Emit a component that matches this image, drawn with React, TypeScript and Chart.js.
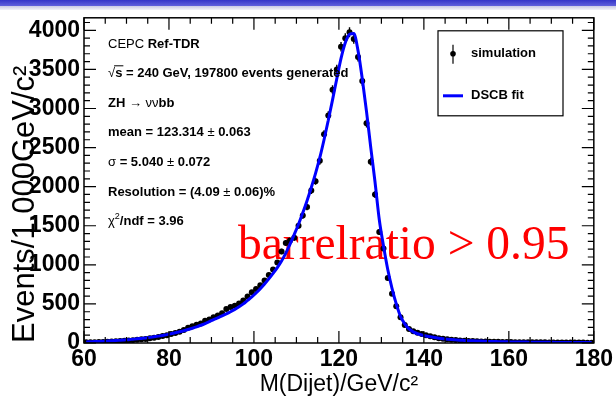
import React, { useEffect, useRef } from 'react';
import { Chart, registerables } from 'chart.js';

Chart.register(...registerables);

// ---- data (1 GeV bins from 60 to 180) ----
const binStart = 60;
const binWidth = 1;

const simulation = [
  8, 10, 11, 13, 14, 16, 18, 21, 25, 29,
  32, 36, 41, 47, 52, 60, 68, 78, 88, 100,
  114, 127, 145, 165, 195, 215, 235, 250, 285, 300,
  330, 352, 380, 435, 460, 475, 505, 545, 595, 650,
  690, 740, 800, 870, 940, 1030, 1170, 1280, 1310, 1345,
  1500, 1630, 1740, 1950, 2070, 2330, 2670, 2910, 3240, 3500,
  3790, 3900, 3975, 3890, 3660, 3350, 2810, 2320, 1900, 1420,
  1210, 830, 630, 470, 330, 230, 180, 150, 130, 115,
  100, 85, 72, 62, 54, 47, 41, 37, 33, 30,
  27, 25, 22, 20, 19, 17, 16, 15, 14, 13,
  12, 11, 11, 10, 10, 9, 9, 8, 8, 7,
  7, 7, 6, 6, 6, 5, 5, 5, 4, 4,
];

const dscbFit = [
  14, 16, 18, 20, 22, 25, 28, 31, 35, 39,
  43, 48, 53, 59, 65, 72, 80, 88, 97, 107,
  118, 130, 143, 157, 172, 189, 207, 227, 249, 273,
  299, 322, 346, 372, 400, 430, 463, 500, 545, 590,
  640, 695, 755, 820, 890, 965, 1050, 1150, 1265, 1390,
  1520, 1665, 1820, 1990, 2170, 2370, 2600, 2850, 3110, 3380,
  3640, 3840, 3950, 3960, 3740, 3380, 2960, 2500, 2060, 1580,
  1240, 940, 700, 500, 340, 245, 180, 142, 118, 102,
  90, 80, 70, 62, 55, 49, 44, 40, 36, 33,
  30, 28, 26, 24, 22, 20, 19, 17, 16, 15,
  14, 13, 12, 12, 11, 10, 10, 9, 9, 8,
  8, 7, 7, 7, 6, 6, 6, 5, 5, 5,
];

const xMin = 60;
const xMax = 180;
const xTickLabels = [60, 80, 100, 120, 140, 160, 180];
const xMinorStep = 5;
const yMin = 0;
const yMax = 4160;
const yTickLabels = [0, 500, 1000, 1500, 2000, 2500, 3000, 3500, 4000];
const yMinorStep = 100;

const xTitle = 'M(Dijet)/GeV/c²';
const yTitle = 'Events/1.000GeV/c²';
const legendLabels = ['simulation', 'DSCB fit'];
const redLabel = 'barrelratio > 0.95';

const SANS = '"Liberation Sans", Arial, Helvetica, sans-serif';
const B = `bold 13px ${SANS}`;
const N = `13px ${SANS}`;
const SUP = `9px ${SANS}`;

type Part = [string, string, number?];

const infoLines: Part[][] = [
  [['CEPC ', N], ['Ref-TDR', B]],
  [['√', N], ['s', B], [' = 240 GeV, 197800 events generated', B]],
  [['ZH ', B], ['→', N], [' νν', N], ['bb', B]],
  [['mean = 123.314 ', B], ['±', N], [' 0.063', B]],
  [['σ', N], [' = 5.040 ', B], ['±', N], [' 0.072', B]],
  [['Resolution = (4.09 ', B], ['±', N], [' 0.06)%', B]],
  [['χ', N], ['2', SUP, -5], ['/ndf = 3.96', B]],
];

const binCenter = (i: number) => binStart + binWidth * (i + 0.5);

function drawRich(ctx: CanvasRenderingContext2D, x: number, y: number, parts: Part[]) {
  let cx = x;
  for (const [t, f, dy] of parts) {
    ctx.font = f;
    ctx.fillText(t, cx, y + (dy || 0));
    cx += ctx.measureText(t).width;
  }
}

const rootPlugin = {
  id: 'rootStyle',
  beforeDatasetsDraw(chart: any) {
    const { ctx, chartArea: a, scales } = chart;
    const x = scales.x;
    const y = scales.y;
    ctx.save();
    // red overlay label
    ctx.font = `47.5px "Liberation Serif", "Times New Roman", serif`;
    ctx.fillStyle = '#ff0000';
    ctx.textBaseline = 'alphabetic';
    ctx.textAlign = 'left';
    ctx.fillText(redLabel, a.left + 154, a.top + 241);
    // error bars
    ctx.beginPath();
    ctx.rect(a.left, a.top, a.right - a.left, a.bottom - a.top);
    ctx.clip();
    ctx.strokeStyle = '#000';
    ctx.lineWidth = 1.4;
    simulation.forEach((v, i) => {
      const px = x.getPixelForValue(binCenter(i));
      const e = Math.sqrt(v);
      ctx.beginPath();
      ctx.moveTo(px, y.getPixelForValue(v - e));
      ctx.lineTo(px, y.getPixelForValue(v + e));
      ctx.stroke();
    });
    ctx.restore();
  },
  afterDraw(chart: any) {
    const { ctx, chartArea: a, scales } = chart;
    const x = scales.x;
    const y = scales.y;
    ctx.save();
    ctx.strokeStyle = '#000';
    // frame
    ctx.lineWidth = 1.5;
    ctx.strokeRect(a.left, a.top, a.right - a.left, a.bottom - a.top);
    // ticks
    ctx.lineWidth = 1.2;
    ctx.beginPath();
    for (let v = xMin; v <= xMax + 1e-9; v += xMinorStep) {
      const px = x.getPixelForValue(v);
      const major = xTickLabels.includes(v);
      const len = major ? 12 : 6;
      ctx.moveTo(px, a.bottom);
      ctx.lineTo(px, a.bottom - len);
      ctx.moveTo(px, a.top);
      ctx.lineTo(px, a.top + len);
    }
    for (let v = yMin; v <= yMax + 1e-9; v += yMinorStep) {
      const py = y.getPixelForValue(v);
      const major = yTickLabels.includes(v);
      const len = major ? 12 : 6;
      ctx.moveTo(a.left, py);
      ctx.lineTo(a.left + len, py);
      ctx.moveTo(a.right, py);
      ctx.lineTo(a.right - len, py);
    }
    ctx.stroke();

    // info text
    ctx.fillStyle = '#000';
    ctx.textBaseline = 'middle';
    ctx.textAlign = 'left';
    const tx = a.left + 24;
    const rows = [27, 56, 86, 115, 145, 175, 204];
    infoLines.forEach((parts, i) => drawRich(ctx, tx, a.top + rows[i], parts));
    // overline for sqrt
    ctx.font = N;
    const sqrtW = ctx.measureText('√').width;
    ctx.font = B;
    const sW = ctx.measureText('s').width;
    ctx.lineWidth = 1;
    ctx.beginPath();
    ctx.moveTo(tx + sqrtW - 1, a.top + 56 - 8);
    ctx.lineTo(tx + sqrtW + sW + 1, a.top + 56 - 8);
    ctx.stroke();

    // legend
    const lx = a.left + 354;
    const ly = a.top + 13;
    const lw = 125;
    const lh = 85;
    ctx.fillStyle = '#fff';
    ctx.fillRect(lx, ly, lw, lh);
    ctx.lineWidth = 1.2;
    ctx.strokeStyle = '#000';
    ctx.strokeRect(lx, ly, lw, lh);
    // entry 1
    ctx.beginPath();
    ctx.moveTo(lx + 15, ly + 14);
    ctx.lineTo(lx + 15, ly + 33);
    ctx.stroke();
    ctx.fillStyle = '#000';
    ctx.beginPath();
    ctx.arc(lx + 15, ly + 23, 2.8, 0, Math.PI * 2);
    ctx.fill();
    ctx.font = B;
    ctx.fillText(legendLabels[0], lx + 33, ly + 23);
    // entry 2
    ctx.strokeStyle = '#0000ff';
    ctx.lineWidth = 3;
    ctx.beginPath();
    ctx.moveTo(lx + 5, ly + 65);
    ctx.lineTo(lx + 25, ly + 65);
    ctx.stroke();
    ctx.fillText(legendLabels[1], lx + 33, ly + 65);
    ctx.restore();
  },
};

export default function App() {
  const ref = useRef<HTMLCanvasElement>(null);
  useEffect(() => {
    if (!ref.current) return;
    const chart = new Chart(ref.current, {
      type: 'line',
      data: {
        datasets: [
          {
            label: legendLabels[1],
            data: dscbFit.map((v, i) => ({ x: binCenter(i), y: v })),
            borderColor: '#0000ff',
            borderWidth: 3,
            pointRadius: 0,
            cubicInterpolationMode: 'monotone',
            fill: false,
            order: 0,
          },
          {
            label: legendLabels[0],
            data: simulation.map((v, i) => ({ x: binCenter(i), y: v })),
            showLine: false,
            pointRadius: 3,
            pointBackgroundColor: '#000',
            pointBorderWidth: 0,
            borderColor: '#000',
            order: 1,
          },
        ],
      },
      options: {
        animation: false,
        responsive: false,
        maintainAspectRatio: false,
        layout: { padding: { top: 17, right: 19, left: 0, bottom: 0 } },
        plugins: { legend: { display: false }, tooltip: { enabled: false } },
        scales: {
          x: {
            type: 'linear',
            min: xMin,
            max: xMax,
            afterFit: (s: any) => { s.height = 56; },
            afterBuildTicks: (s: any) => { s.ticks = xTickLabels.map((v) => ({ value: v })); },
            grid: { display: false, drawTicks: false },
            border: { display: false },
            ticks: {
              autoSkip: false,
              maxRotation: 0,
              padding: 3,
              color: '#000',
              callback: (v: any) => String(v),
              font: { family: SANS, weight: 'bold', size: 23 },
            },
            title: {
              display: true,
              text: xTitle,
              color: '#000',
              font: { family: SANS, size: 23 },
              padding: { top: 0, bottom: 1 },
            },
          },
          y: {
            type: 'linear',
            min: yMin,
            max: yMax,
            afterFit: (s: any) => { s.width = 84; },
            afterBuildTicks: (s: any) => { s.ticks = yTickLabels.map((v) => ({ value: v })); },
            grid: { display: false, drawTicks: false },
            border: { display: false },
            ticks: {
              autoSkip: false,
              padding: 4,
              color: '#000',
              callback: (v: any) => String(v),
              font: { family: SANS, weight: 'bold', size: 23 },
            },
            title: {
              display: true,
              text: yTitle,
              align: 'start',
              color: '#000',
              font: { family: SANS, size: 31 },
              padding: { top: 7, bottom: 0 },
            },
          },
        },
      },
      plugins: [rootPlugin],
    } as any);
    return () => chart.destroy();
  }, []);

  return (
    <div style={{ position: 'fixed', left: 0, top: 0, width: 616, height: 399, background: '#fff', overflow: 'hidden' }}>
      <div style={{ position: 'absolute', left: 0, top: 0, width: 616, height: 6, background: 'linear-gradient(to bottom, #3434c8, #6060dc)' }} />
      <div style={{ position: 'absolute', left: 0, top: 6, width: 616, height: 4, background: 'linear-gradient(to bottom, #c8c8e4, #f2f2f8)' }} />
      <canvas ref={ref} width={616} height={399} style={{ position: 'absolute', left: 0, top: 0, width: 616, height: 399 }} />
    </div>
  );
}
